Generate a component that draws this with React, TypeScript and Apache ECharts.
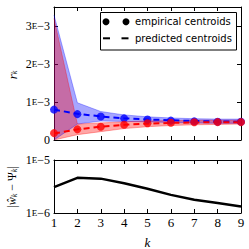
import React, { useEffect, useRef } from "react";
import * as echarts from "echarts";

const ks = ["1", "2", "3", "4", "5", "6", "7", "8", "9"];
// values in units of 1E-3
const empBlue = [0.8, 0.68, 0.62, 0.57, 0.54, 0.51, 0.49, 0.48, 0.48];
const empRed = [0.18, 0.28, 0.35, 0.4, 0.44, 0.455, 0.465, 0.47, 0.47];
const predBlue = [0.8, 0.69, 0.62, 0.57, 0.54, 0.52, 0.5, 0.49, 0.48];
const predRed = [0.17, 0.28, 0.35, 0.4, 0.43, 0.45, 0.46, 0.47, 0.47];
const blueUpper = [3.29, 0.98, 0.75, 0.66, 0.61, 0.58, 0.56, 0.55, 0.55];
const blueLower = [0.0, 0.42, 0.5, 0.49, 0.48, 0.46, 0.45, 0.44, 0.44];
const redUpper = [3.2, 0.42, 0.45, 0.48, 0.5, 0.51, 0.52, 0.52, 0.52];
const redLower = [0.0, 0.14, 0.22, 0.3, 0.35, 0.38, 0.4, 0.41, 0.42];
// bottom panel |w_k - Psi_k|
const errVals = [3.07e-6, 4.6e-6, 4.45e-6, 3.65e-6, 2.86e-6, 2.2e-6, 1.78e-6, 1.54e-6, 1.33e-6];
const topTicks = [0, 1, 2, 3];
const legendLabels = ["empirical centroids", "predicted centroids"];

const SCALE = 1e-3;
const SERIF = "Liberation Serif";

const sc = (a: number[]) => a.map((v) => v * SCALE);
const diff = (u: number[], l: number[]) => u.map((v, i) => (v - l[i]) * SCALE);

const tickRich = {
  n: { fontFamily: SERIF, fontSize: 12, color: "#000" },
  e: { fontFamily: SERIF, fontSize: 9, color: "#000" },
};

export default function App() {
  const ref = useRef<HTMLDivElement>(null);
  useEffect(() => {
    if (!ref.current) return;
    const chart = echarts.init(ref.current, null, { renderer: "svg" });
    const L = 54, R = 8;
    const tick = { show: true, inside: true, length: 4, lineStyle: { color: "#000", width: 1 } };
    const line = { show: true, onZero: false, lineStyle: { color: "#000", width: 1 } };
    const catX = (grid: number, pos: string, labels: boolean) => ({
      type: "category",
      gridIndex: grid,
      position: pos,
      data: ks,
      boundaryGap: false,
      axisLine: line,
      axisTick: { ...tick, alignWithLabel: true },
      axisLabel: labels
        ? { show: true, fontFamily: SERIF, fontSize: 13, color: "#000", margin: 3 }
        : { show: false },
      splitLine: { show: false },
    });
    const option: any = {
      animation: false,
      backgroundColor: "#fff",
      grid: [
        { left: L, right: R, top: 7, height: 133, outerBoundsMode: "none", containLabel: false },
        { left: L, right: R, top: 160, height: 53, outerBoundsMode: "none", containLabel: false },
      ],
      xAxis: [catX(0, "bottom", false), catX(0, "top", false), catX(1, "bottom", true), catX(1, "top", false)],
      yAxis: [
        {
          type: "value",
          gridIndex: 0,
          min: 0,
          max: 3.5 * SCALE,
          interval: 1 * SCALE,
          axisLine: line,
          axisTick: tick,
          splitLine: { show: false },
          axisLabel: {
            margin: 4,
            formatter: (v: number) => {
              const n = Math.round(v / SCALE);
              if (!topTicks.includes(n)) return "";
              return n === 0 ? "{n|0}" : `{n|${n}}{e|E}{n|−3}`;
            },
            rich: tickRich,
          },
        },
        {
          type: "value",
          gridIndex: 0,
          position: "right",
          min: 0,
          max: 3.5 * SCALE,
          interval: 1 * SCALE,
          axisLine: line,
          axisTick: tick,
          splitLine: { show: false },
          axisLabel: { show: false },
        },
        {
          type: "log",
          logBase: 10,
          gridIndex: 1,
          min: 1e-6,
          max: 1e-5,
          axisLine: line,
          axisTick: tick,
          minorTick: { show: false },
          splitLine: { show: false },
          axisLabel: {
            margin: 4,
            formatter: (v: number) => `{n|1}{e|E}{n|−${-Math.round(Math.log10(v))}}`,
            rich: tickRich,
          },
        },
        {
          type: "log",
          logBase: 10,
          gridIndex: 1,
          position: "right",
          min: 1e-6,
          max: 1e-5,
          axisLine: line,
          axisTick: tick,
          splitLine: { show: false },
          axisLabel: { show: false },
        },
      ],
      series: [
        {
          type: "line", xAxisIndex: 0, yAxisIndex: 0, stack: "blue", symbol: "none",
          data: sc(blueLower), lineStyle: { color: "rgba(0,0,255,0.4)", width: 0.8 }, z: 1,
        },
        {
          type: "line", xAxisIndex: 0, yAxisIndex: 0, stack: "blue", symbol: "none",
          data: diff(blueUpper, blueLower),
          lineStyle: { color: "rgba(0,0,255,0.4)", width: 0.8 },
          areaStyle: { color: "rgba(0,0,255,0.35)", opacity: 1 }, z: 1,
        },
        {
          type: "line", xAxisIndex: 0, yAxisIndex: 0, stack: "red", symbol: "none",
          data: sc(redLower), lineStyle: { color: "rgba(255,0,0,0.4)", width: 0.8 }, z: 1,
        },
        {
          type: "line", xAxisIndex: 0, yAxisIndex: 0, stack: "red", symbol: "none",
          data: diff(redUpper, redLower),
          lineStyle: { color: "rgba(255,0,0,0.4)", width: 0.8 },
          areaStyle: { color: "rgba(255,0,0,0.35)", opacity: 1 }, z: 1,
        },
        {
          type: "line", xAxisIndex: 0, yAxisIndex: 0, symbol: "none", data: sc(predBlue),
          lineStyle: { color: "#0000ff", width: 2, type: [6, 4] }, z: 3,
        },
        {
          type: "line", xAxisIndex: 0, yAxisIndex: 0, symbol: "none", data: sc(predRed),
          lineStyle: { color: "#ff0000", width: 2, type: [6, 4] }, z: 3,
        },
        {
          type: "scatter", xAxisIndex: 0, yAxisIndex: 0, data: sc(empBlue), symbolSize: 8,
          itemStyle: { color: "#0000ff" }, z: 4,
        },
        {
          type: "scatter", xAxisIndex: 0, yAxisIndex: 0, data: sc(empRed), symbolSize: 8,
          itemStyle: { color: "#ff0000" }, z: 4,
        },
        {
          type: "line", xAxisIndex: 2, yAxisIndex: 2, symbol: "none", data: errVals,
          lineStyle: { color: "#000", width: 2.5 },
        },
      ],
      graphic: [
        {
          type: "rect", z: 100, shape: { x: 100.5, y: 12.5, width: 136, height: 37.5 },
          style: { fill: "#fff", stroke: "#000", lineWidth: 1 },
        },
        { type: "circle", z: 101, shape: { cx: 106, cy: 21.7, r: 3.5 }, style: { fill: "#000" } },
        { type: "circle", z: 101, shape: { cx: 126, cy: 21.7, r: 3.5 }, style: { fill: "#000" } },
        { type: "line", z: 101, shape: { x1: 103, y1: 38.3, x2: 110, y2: 38.3 }, style: { stroke: "#000", lineWidth: 2 } },
        { type: "line", z: 101, shape: { x1: 121.5, y1: 38.3, x2: 128.5, y2: 38.3 }, style: { stroke: "#000", lineWidth: 2 } },
        {
          type: "text", z: 101, x: 135, y: 21.7,
          style: { text: legendLabels[0], fontFamily: "DejaVu Sans", fontSize: 10, fill: "#000", verticalAlign: "middle" },
        },
        {
          type: "text", z: 101, x: 135, y: 38.3,
          style: { text: legendLabels[1], fontFamily: "DejaVu Sans", fontSize: 10, fill: "#000", verticalAlign: "middle" },
        },
        {
          type: "text", z: 101, x: 12, y: 75, rotation: Math.PI / 2,
          style: {
            text: "{i|r}{s|k}",
            align: "center",
            verticalAlign: "middle",
            rich: {
              i: { fontFamily: SERIF, fontStyle: "italic", fontSize: 13, fill: "#000", lineHeight: 14 },
              s: { fontFamily: SERIF, fontStyle: "italic", fontSize: 8, fill: "#000", padding: [5, 0, 0, 0], lineHeight: 14 },
            },
          },
        },
        {
          type: "text", z: 101, x: 12, y: 187, rotation: Math.PI / 2,
          style: {
            text: "{n||}{i|ŵ}{s|k}{n| − Ψ}{s|k}{n||}",
            align: "center",
            verticalAlign: "middle",
            rich: {
              n: { fontFamily: SERIF, fontSize: 12, fill: "#000", lineHeight: 14 },
              i: { fontFamily: SERIF, fontStyle: "italic", fontSize: 12, fill: "#000", lineHeight: 14 },
              s: { fontFamily: SERIF, fontStyle: "italic", fontSize: 8, fill: "#000", padding: [5, 0, 0, 0], lineHeight: 14 },
            },
          },
        },
        {
          type: "text", z: 101, x: 147.5, y: 242,
          style: {
            text: "k", fontFamily: SERIF, fontStyle: "italic", fontSize: 13, fill: "#000",
            align: "center", verticalAlign: "middle",
          },
        },
      ],
    };
    chart.setOption(option);
    return () => chart.dispose();
  }, []);
  return (
    <div
      ref={ref}
      style={{ position: "fixed", left: 0, top: 0, width: 249, height: 249, background: "#fff" }}
    />
  );
}
